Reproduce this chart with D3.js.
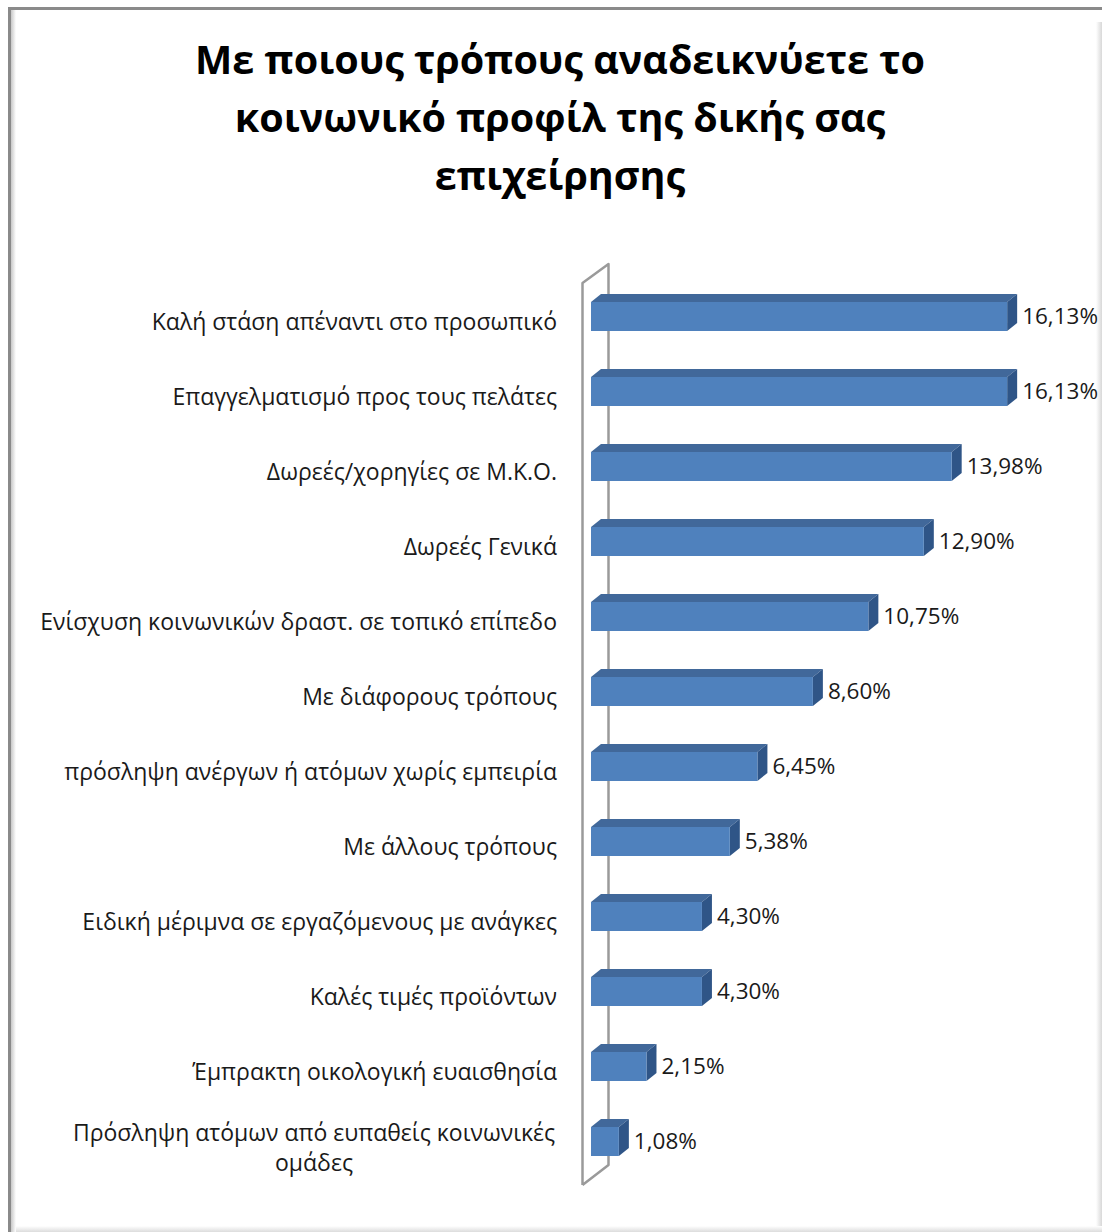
<!DOCTYPE html>
<html>
<head>
<meta charset="utf-8">
<script src="https://cdn.jsdelivr.net/npm/d3@7"></script>
<style>
  body { margin: 0; background: #fff; }
  svg { display: block; }
</style>
</head>
<body>
<svg id="drawing_region"></svg>
<script>
const titleLines = [
    "Με ποιους τρόπους αναδεικνύετε το",
    "κοινωνικό προφίλ της δικής σας",
    "επιχείρησης"
];

const categories = [
    ["Καλή στάση απέναντι στο προσωπικό"],
    ["Επαγγελματισμό προς τους πελάτες"],
    ["Δωρεές/χορηγίες σε Μ.Κ.Ο."],
    ["Δωρεές Γενικά"],
    ["Ενίσχυση κοινωνικών δραστ. σε τοπικό επίπεδο"],
    ["Με διάφορους τρόπους"],
    ["πρόσληψη ανέργων ή ατόμων χωρίς εμπειρία"],
    ["Με άλλους τρόπους"],
    ["Ειδική μέριμνα σε εργαζόμενους με ανάγκες"],
    ["Καλές τιμές προϊόντων"],
    ["Έμπρακτη οικολογική ευαισθησία"],
    ["Πρόσληψη ατόμων από ευπαθείς κοινωνικές", "ομάδες"]
];

const values = [16.13, 16.13, 13.98, 12.90, 10.75, 8.60, 6.45, 5.38, 4.30, 4.30, 2.15, 1.08];

const config = {
    width: 1102,
    height: 1232,
    plotLeft: 591,
    plotTop: 279,
    plotBottom: 1179,
    pxPerUnit: 25.8,
    depthX: 10,
    depthY: 8,
    barHeight: 29
};

const svg = d3.select('#drawing_region')
    .attr('width', config.width)
    .attr('height', config.height);

// frame with soft shadow
const defs = svg.append('defs');
const gl = defs.append('linearGradient').attr('id', 'shadowL').attr('x1', 0).attr('x2', 1);
gl.append('stop').attr('offset', 0).attr('stop-color', '#c8c8c8');
gl.append('stop').attr('offset', 1).attr('stop-color', '#ffffff');
const gr = defs.append('linearGradient').attr('id', 'shadowR').attr('x1', 0).attr('x2', 1);
gr.append('stop').attr('offset', 0).attr('stop-color', '#ffffff');
gr.append('stop').attr('offset', 1).attr('stop-color', '#d8d8d8');
const gb = defs.append('linearGradient').attr('id', 'shadowB').attr('x1', 0).attr('x2', 0).attr('y1', 0).attr('y2', 1);
gb.append('stop').attr('offset', 0).attr('stop-color', '#ffffff');
gb.append('stop').attr('offset', 1).attr('stop-color', '#dcdcdc');

svg.append('rect').attr('x', 11).attr('y', 10).attr('width', 5).attr('height', 1222).attr('fill', 'url(#shadowL)');
svg.append('rect').attr('x', 1096).attr('y', 22).attr('width', 6).attr('height', 1210).attr('fill', 'url(#shadowR)');
svg.append('rect').attr('x', 16).attr('y', 1226).attr('width', 1086).attr('height', 6).attr('fill', 'url(#shadowB)');
svg.append('line').attr('x1', 9).attr('x2', 1102).attr('y1', 8.5).attr('y2', 8.5)
    .attr('stroke', '#8a8a8a').attr('stroke-width', 3);
svg.append('line').attr('x1', 9.5).attr('x2', 9.5).attr('y1', 7).attr('y2', 1232)
    .attr('stroke', '#8a8a8a').attr('stroke-width', 3);

// title
svg.append('text')
    .attr('text-anchor', 'middle')
    .attr('font-family', '"Open Sans", sans-serif')
    .attr('font-weight', 'bold')
    .attr('font-size', 39.5)
    .attr('fill', '#000')
    .selectAll('tspan')
    .data(titleLines)
    .join('tspan')
    .attr('x', 560)
    .attr('y', (d, i) => 74 + i * 58)
    .text(d => d);

// scales
const x = d3.scaleLinear()
    .domain([0, 1])
    .range([0, config.pxPerUnit]);

const y = d3.scaleBand()
    .domain(d3.range(categories.length))
    .range([config.plotTop, config.plotBottom])
    .paddingInner(0.6)
    .paddingOuter(0.3);

const cy = i => y(i) + y.bandwidth() / 2;
const bh = config.barHeight;
const dx = config.depthX, dy = config.depthY;
const x0 = config.plotLeft;

// side wall of the 3d box
const wallL = 582.5, wallR = 608.5;
svg.append('path')
    .attr('d', `M${wallL},1185 L${wallL},283 L${wallR},264 L${wallR},1165 L${wallL},1185`)
    .attr('fill', 'none')
    .attr('stroke', '#9a9a9a')
    .attr('stroke-width', 2.5)
    .attr('stroke-linejoin', 'round');

// bars
const bars = svg.append('g')
    .selectAll('g')
    .data(values)
    .join('g');

bars.append('path')
    .attr('d', (d, i) => {
        const t = cy(i) - bh / 2, w = x(d);
        return `M${x0},${t} L${x0 + dx},${t - dy} L${x0 + w + dx},${t - dy} L${x0 + w},${t} Z`;
    })
    .attr('fill', '#41689a');

bars.append('path')
    .attr('d', (d, i) => {
        const t = cy(i) - bh / 2, w = x(d);
        return `M${x0 + w},${t} L${x0 + w + dx},${t - dy} L${x0 + w + dx},${t + bh - dy} L${x0 + w},${t + bh} Z`;
    })
    .attr('fill', '#2f5587');

bars.append('rect')
    .attr('x', x0)
    .attr('y', (d, i) => cy(i) - bh / 2)
    .attr('width', d => x(d))
    .attr('height', bh)
    .attr('fill', '#4f81bd');

// value labels
bars.append('text')
    .attr('x', d => x0 + x(d) + dx + 5)
    .attr('y', (d, i) => cy(i) + 1)
    .attr('dominant-baseline', 'middle')
    .attr('font-family', '"Open Sans", sans-serif')
    .attr('font-size', 22.5)
    .attr('fill', '#1a1a1a')
    .text(d => d.toFixed(2).replace('.', ',') + '%');

// category labels
const labels = svg.append('g')
    .attr('font-family', '"Open Sans", sans-serif')
    .attr('font-size', 23)
    .attr('fill', '#1a1a1a')
    .selectAll('text')
    .data(categories)
    .join('text')
    .attr('text-anchor', (d) => d.length > 1 ? 'middle' : 'end')
    .attr('transform', (d, i) => `translate(0, ${cy(i) + 13 - (d.length - 1) * 14})`);

labels.selectAll('tspan')
    .data(d => d)
    .join('tspan')
    .attr('x', function () {
        const lines = d3.select(this.parentNode).datum();
        return lines.length > 1 ? 314 : 557;
    })
    .attr('dy', (d, i) => i === 0 ? 0 : 30)
    .text(d => d);
</script>
</body>
</html>
